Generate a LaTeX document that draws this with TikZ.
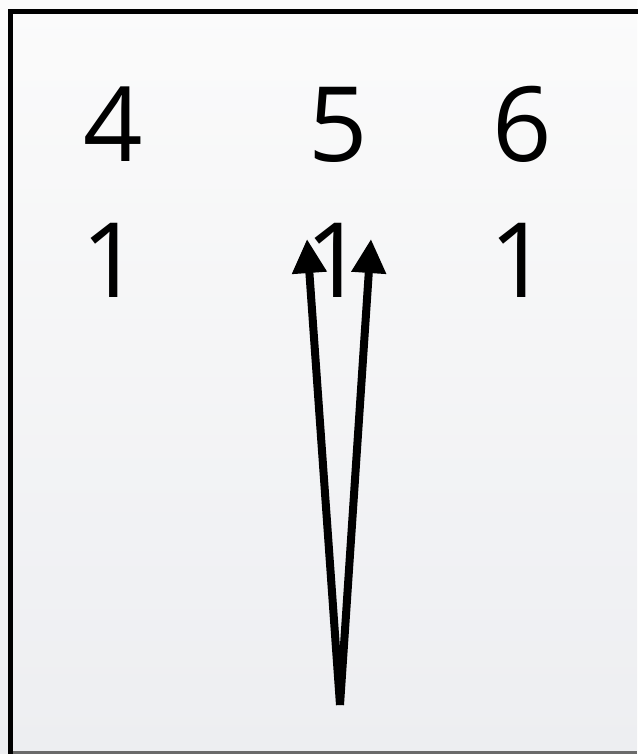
\documentclass[tikz,border=0pt]{standalone}
\usepackage{fontspec}
\setmainfont{Open Sans}
\usetikzlibrary{arrows.meta}
\definecolor{bgtop}{HTML}{FBFBFB}
\definecolor{bgbot}{HTML}{EDEEF1}
\definecolor{edgegray}{HTML}{6A6A6A}
\tikzset{
  digit/.style={font=\fontsize{104}{110}\selectfont, inner sep=0pt, anchor=base, text=black},
  frameline/.style={line width=5pt, black},
  bigarrow/.style={line width=8pt, -{Triangle[length=34pt, width=33pt]}, black}
}
\begin{document}
\begin{tikzpicture}[x=1pt, y=-1pt]
  \useasboundingbox (0,0) rectangle (637,754);
  \shade[top color=bgtop, bottom color=bgbot] (0,0) rectangle (637,754);
  % frame
  \coordinate (ftl) at (10.5,12);
  \coordinate (ftr) at (637,12);
  \coordinate (fbl) at (10.5,752);
  \draw[frameline, line cap=rect] (fbl) -- (ftl) -- (ftr);
  \coordinate (bl) at (13,752.5);
  \coordinate (br) at (637,752.5);
  \draw[edgegray, line width=3pt] (bl) -- (br);
  % digits
  \node[digit] (n4) at (113,162) {4};
  \node[digit] (n5) at (338,162) {5};
  \node[digit] (n6) at (522,162) {6};
  \node[digit] (c4) at (111,297) {1};
  \node[digit] (c5) at (335,297) {1};
  \node[digit] (c6) at (519,297) {1};
  % arrows
  \coordinate (src) at (340,705);
  \coordinate (tl) at (307,239);
  \coordinate (tr) at (371,239);
  \draw[bigarrow] (src) -- (tl);
  \draw[bigarrow] (src) -- (tr);
\end{tikzpicture}
\end{document}
